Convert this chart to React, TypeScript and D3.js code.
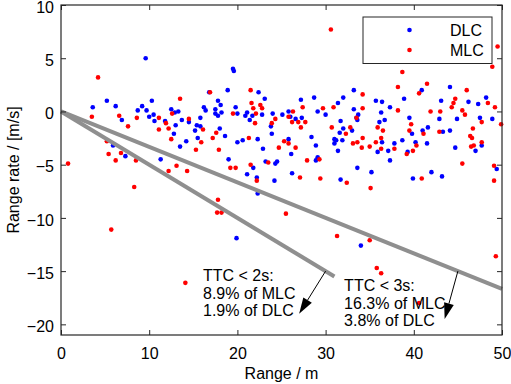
import * as d3 from "d3";
import { useEffect, useRef } from "react";

// range [m], range rate [m/s]
const rangeTicks = [0, 10, 20, 30, 40, 50];
const rateTicks = [-20, -15, -10, -5, 0, 5, 10];

const dlc: [number, number][] = [
  [9.6, 5.0], [19.5, 4.0], [19.6, 3.8], [3.6, 0.4], [5.2, 1.0], [6.2, 0.5], [6.9, -0.8],
  [8.7, 0.1], [9.2, 0.5], [9.7, 0.1], [10.3, 1.0], [10.0, -0.5], [10.5, -0.3], [10.6, -0.9],
  [11.8, -0.9], [12.5, 0.2], [12.8, -2.1], [7.3, -4.2], [11.3, -4.5], [13.0, -1.3], [5.9, -3.2],
  [16.8, 1.8], [18.9, 2.0], [22.4, 1.8], [23.1, 1.2], [17.8, 1.0], [18.1, 0.6], [16.2, 0.4],
  [16.4, 0.1], [17.5, 0.2], [17.5, -0.2], [18.2, -0.1], [17.8, -0.4], [19.8, 0.4], [20.0, -0.2],
  [20.9, -0.4], [21.1, -0.1], [21.7, -0.4], [21.4, -0.8], [22.8, -0.3], [24.0, -0.2], [25.1, -0.3],
  [23.8, -1.4], [23.9, -2.1], [13.3, 0.0], [12.9, -0.1], [13.7, -0.8], [15.8, -0.6], [15.4, -1.3],
  [15.8, -1.4], [15.2, -1.8], [14.5, -1.0], [18.0, -1.6], [15.5, -2.5], [18.6, -2.3], [14.2, -2.8],
  [13.5, -3.3], [20.0, -2.9], [20.6, -2.7], [22.3, -2.6], [22.9, -3.5], [19.0, -4.5], [23.2, -4.7],
  [24.3, -4.9], [24.5, -4.7], [21.1, -5.9], [22.2, -6.2], [21.8, -5.3], [24.2, -6.5], [22.3, -7.7],
  [19.9, -11.9],
  [33.2, 2.0], [28.7, 1.3], [27.2, 1.1], [32.0, 1.3], [31.4, 0.8], [35.7, 1.0], [36.4, 0.9],
  [29.1, 0.0], [30.0, -0.3], [33.2, 0.2], [33.7, -0.3], [33.5, -0.6], [33.6, -0.8], [36.3, -0.1],
  [36.7, -0.8], [36.1, -1.0], [25.8, 0.0], [26.0, -0.5], [26.6, -0.7], [27.3, -0.6], [31.7, -0.9],
  [32.0, -1.6], [31.6, -2.0], [33.0, -1.8], [31.2, -2.7], [31.9, -2.7], [31.0, -2.6], [31.0, -3.0],
  [31.4, -3.7], [28.4, -2.4], [28.9, -3.2], [25.8, -2.6], [26.1, -4.0], [29.1, -4.3], [28.9, -4.6],
  [36.4, -2.9], [37.1, -3.7], [37.3, -4.6], [33.6, -5.3], [35.2, -5.7], [26.2, -5.8], [31.7, -6.4],
  [35.9, -3.8], [34.0, -12.6],
  [40.9, 2.0], [44.1, 2.3], [38.9, 1.2], [43.1, 1.0], [46.2, 0.9], [47.3, 0.7], [48.2, 1.3],
  [39.5, -0.6], [42.9, -0.7], [44.9, -0.7], [47.5, -0.6], [48.9, -0.7], [41.6, -1.5], [41.0, -1.8],
  [39.8, -2.1], [43.3, -1.9], [44.1, -1.8], [38.7, -2.7], [40.2, -2.9], [41.5, -3.0], [44.7, -3.4],
  [47.0, -3.7], [47.7, -3.2], [39.3, -3.8], [42.0, -5.7], [43.2, -6.1], [39.9, -6.3], [49.4, -5.4],
  [37.3, 0.4], [37.8, -3.0],
];

const mlc: [number, number][] = [
  [4.2, 3.2], [30.6, 7.7], [49.5, 6.1], [48.9, 4.2], [38.7, 3.7], [3.5, -0.5], [6.6, -0.4],
  [7.6, -1.4], [8.6, -0.6], [11.1, -0.6], [11.1, -1.7], [11.9, -1.1], [12.2, -1.6], [12.6, -0.2],
  [12.5, -2.6], [5.4, -4.0], [6.2, -4.6], [6.8, -3.9], [8.5, -4.6], [12.2, -5.6], [0.8, -4.9],
  [13.5, 1.2], [5.2, -2.8], [8.3, -7.1], [5.7, -11.1], [13.1, -5.1], [14.3, -5.6], [14.1, -16.1],
  [16.9, 1.8], [21.5, 2.0], [21.6, 0.8], [22.6, 0.6], [22.8, 0.3], [21.8, 0.3], [19.5, -0.2],
  [22.1, -0.2], [14.5, -0.7], [24.3, -0.7], [23.9, -1.1], [22.0, -1.1], [16.1, -1.7], [17.6, -2.0],
  [17.2, -2.5], [15.9, -2.9], [21.3, -2.5], [15.3, -3.6], [17.9, -3.6], [24.7, -3.4], [25.3, -2.8],
  [23.5, -4.8], [21.5, -5.0], [19.2, -5.3], [19.8, -5.3], [22.2, -6.5], [17.8, -8.3], [17.7, -9.5],
  [18.2, -9.5], [25.5, -9.6],
  [34.2, 1.6], [27.4, 0.4], [29.7, 0.3], [30.9, 0.4], [34.2, 0.3], [26.3, 0.0], [25.8, -0.5],
  [26.2, -1.0], [26.9, -1.0], [27.7, -1.0], [27.2, -1.5], [30.7, -1.5], [32.8, -1.5], [32.3, -2.1],
  [33.5, -0.6], [35.9, -1.5], [36.5, -1.8], [25.8, -3.0], [26.6, -3.4], [33.1, -3.0], [33.6, -2.9],
  [34.2, -2.5], [34.1, -3.4], [35.0, -3.3], [35.7, -2.9], [36.3, -2.5], [36.3, -3.5], [27.9, -4.6],
  [29.3, -4.5], [27.1, -6.2], [29.4, -6.3], [31.3, -11.7], [35.0, -12.1], [32.4, -6.7], [35.1, -7.2],
  [35.8, -14.7], [36.3, -15.2], [40.6, -18.0], [49.3, -13.6],
  [38.2, 2.3], [41.5, 2.6], [40.6, 1.7], [46.0, 2.0], [44.7, 1.2], [44.5, 0.8], [44.3, 0.4],
  [48.4, 0.8], [49.2, 0.4], [38.2, 0.1], [41.9, 0.0], [43.0, 0.0], [45.5, 0.1], [45.8, -0.3],
  [47.7, -1.0], [49.9, -1.2], [39.7, -1.2], [39.5, -1.8], [41.1, -2.1], [42.9, -1.9], [46.7, -1.6],
  [46.4, -2.3], [46.6, -2.5], [47.7, -2.9], [46.8, -3.2], [46.5, -3.3], [40.3, -3.2], [37.8, -3.5],
  [39.9, -3.7], [39.2, -4.0], [45.5, -4.9], [49.1, -5.1], [40.9, -6.3], [49.1, -6.5],
];

const seriesLabels = ["DLC", "MLC"];
const seriesColors = ["#0000ff", "#ff0000"];

// TTC thresholds [s] and the range where each guide line stops
const ttcValues = [2, 3];
const ttcLineEnds = [31, 50];
const ttc2Text = ["TTC < 2s:", "8.9% of MLC", "1.9% of DLC"];
const ttc3Text = ["TTC < 3s:", "16.3% of MLC", "3.8% of DLC"];

const W = 511;
const H = 384;
const FONT = "'Liberation Sans', Arial, Helvetica, sans-serif";

export default function App() {
  const ref = useRef<SVGSVGElement | null>(null);

  useEffect(() => {
    const svg = d3.select(ref.current);
    svg.selectAll("*").remove();

    const margin = { top: 5, right: 9, bottom: 49, left: 61 };
    const iw = W - margin.left - margin.right;
    const ih = H - margin.top - margin.bottom;

    const x = d3.scaleLinear().domain([0, 50]).range([0, iw]);
    const y = d3.scaleLinear().domain([-21, 10]).range([ih, 0]);

    const g = svg
      .append("g")
      .attr("transform", `translate(${margin.left},${margin.top})`);

    // points
    [dlc, mlc].forEach((pts, i) => {
      g.append("g")
        .selectAll("circle")
        .data(pts)
        .enter()
        .append("circle")
        .attr("cx", (d) => x(d[0]))
        .attr("cy", (d) => y(d[1]))
        .attr("r", 2.3)
        .attr("fill", seriesColors[i]);
    });

    // TTC guide lines: rate = -range / ttc
    ttcValues.forEach((ttc, i) => {
      g.append("line")
        .attr("x1", x(0))
        .attr("y1", y(0))
        .attr("x2", x(ttcLineEnds[i]))
        .attr("y2", y(-ttcLineEnds[i] / ttc))
        .attr("stroke", "#8f8f8f")
        .attr("stroke-width", 4);
    });

    // arrows
    const arrow = (from: [number, number], to: [number, number]) => {
      const x1 = x(from[0]);
      const y1 = y(from[1]);
      const x2 = x(to[0]);
      const y2 = y(to[1]);
      const a = Math.atan2(y2 - y1, x2 - x1);
      const len = 16;
      const hw = 5;
      const bx = x2 - len * Math.cos(a);
      const by = y2 - len * Math.sin(a);
      g.append("line")
        .attr("x1", x1)
        .attr("y1", y1)
        .attr("x2", bx)
        .attr("y2", by)
        .attr("stroke", "#000")
        .attr("stroke-width", 1);
      g.append("path")
        .attr(
          "d",
          `M${x2},${y2}L${bx + hw * Math.sin(a)},${by - hw * Math.cos(a)}L${bx - hw * Math.sin(a)},${by + hw * Math.cos(a)}Z`
        )
        .attr("fill", "#000");
    };
    arrow([30, -15], [27, -19]);
    arrow([45, -15], [43.5, -19.5]);

    const annotate = (lines: string[], ax: number, ay: number) => {
      const t = g
        .append("text")
        .attr("font-family", FONT)
        .attr("font-size", 16)
        .attr("fill", "#000");
      lines.forEach((s, i) => {
        t.append("tspan")
          .attr("x", x(ax))
          .attr("y", y(ay) + i * 17.8)
          .text(s);
      });
    };
    annotate(ttc2Text, 16.1, -15.9);
    annotate(ttc3Text, 32.1, -16.85);

    // axes, ticks inward on all sides
    const bottom = g
      .append("g")
      .attr("transform", `translate(0,${ih})`)
      .call(d3.axisBottom(x).tickValues(rangeTicks).tickSizeInner(-5).tickSizeOuter(0).tickPadding(13));
    const left = g
      .append("g")
      .call(d3.axisLeft(y).tickValues(rateTicks).tickSizeInner(-5).tickSizeOuter(0).tickPadding(7));
    const top = g
      .append("g")
      .call(d3.axisTop(x).tickValues(rangeTicks).tickSizeInner(-5).tickSizeOuter(0).tickFormat(() => ""));
    const right = g
      .append("g")
      .attr("transform", `translate(${iw},0)`)
      .call(d3.axisRight(y).tickValues(rateTicks).tickSizeInner(-5).tickSizeOuter(0).tickFormat(() => ""));

    left.selectAll("text").attr("dy", "0.45em");

    [bottom, left, top, right].forEach((ax) => {
      ax.select(".domain").remove();
      ax.selectAll("line").attr("stroke", "#262626");
      ax.selectAll("text")
        .attr("font-family", FONT)
        .attr("font-size", 16)
        .attr("fill", "#000");
    });

    g.append("rect")
      .attr("width", iw)
      .attr("height", ih)
      .attr("fill", "none")
      .attr("stroke", "#262626")
      .attr("stroke-width", 1.2);

    // legend
    const leg = g.append("g").attr("transform", `translate(${iw - 139},${12})`);
    leg.append("rect")
      .attr("width", 129)
      .attr("height", 46.5)
      .attr("fill", "#fff")
      .attr("stroke", "#262626")
      .attr("stroke-width", 1);
    seriesLabels.forEach((label, i) => {
      leg.append("circle")
        .attr("cx", 46.5)
        .attr("cy", 13 + i * 20)
        .attr("r", 2.3)
        .attr("fill", seriesColors[i]);
      leg.append("text")
        .attr("x", 87)
        .attr("y", 13 + i * 20)
        .attr("dy", "0.35em")
        .attr("font-family", FONT)
        .attr("font-size", 16)
        .text(label);
    });

    // axis titles
    svg.append("text")
      .attr("x", margin.left + iw / 2)
      .attr("y", 379)
      .attr("text-anchor", "middle")
      .attr("font-family", FONT)
      .attr("font-size", 16)
      .text("Range / m");

    svg.append("text")
      .attr("transform", `translate(19,${margin.top + ih / 2}) rotate(-90)`)
      .attr("text-anchor", "middle")
      .attr("font-family", FONT)
      .attr("font-size", 16)
      .text("Range rate / [m/s]");
  }, []);

  return (
    <svg
      ref={ref}
      width={W}
      height={H}
      style={{ position: "absolute", left: 0, top: 0, background: "#fff" }}
    ></svg>
  );
}
